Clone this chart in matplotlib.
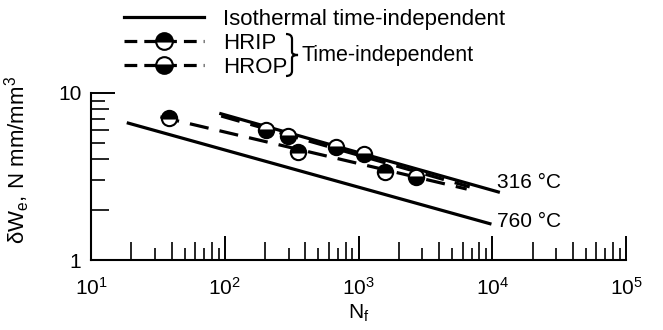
import matplotlib
matplotlib.use('Agg')
import matplotlib.pyplot as plt
import matplotlib.ticker as ticker
from matplotlib.lines import Line2D
from matplotlib.path import Path
from matplotlib.patches import PathPatch

plt.rcParams['font.family'] = ['Liberation Sans', 'DejaVu Sans']
plt.rcParams['mathtext.fontset'] = 'custom'
plt.rcParams['mathtext.rm'] = 'Liberation Sans'
plt.rcParams['mathtext.it'] = 'Liberation Sans'
plt.rcParams['mathtext.bf'] = 'Liberation Sans:bold'

# isothermal time-independent lines
iso316_n = [91, 11400]
iso316_w = [7.56, 2.54]
iso760_n = [18.5, 9860]
iso760_w = [6.64, 1.64]

# fitted dashed lines
hrip_fit_n = [33, 6440]
hrip_fit_w = [7.2, 2.66]
hrop_fit_n = [94, 6780]
hrop_fit_w = [7.28, 2.74]

# test points
hrip_n = [38, 351, 1567]
hrip_w = [7.05, 4.45, 3.38]
hrop_n = [204, 295, 681, 1096, 2704]
hrop_w = [6.0, 5.55, 4.77, 4.29, 3.15]

W, H = 663, 330
fig = plt.figure(figsize=(W / 100, H / 100), dpi=100)
ax = fig.add_axes([0.1373, 0.2121, 0.8069, 0.5061])

lw = 2.3
ax.plot(iso316_n, iso316_w, color='black', lw=lw, solid_capstyle='butt')
ax.plot(iso760_n, iso760_w, color='black', lw=lw, solid_capstyle='butt')
ax.plot(hrip_fit_n, hrip_fit_w, color='black', lw=lw, dashes=(6, 3.5))
ax.plot(hrop_fit_n, hrop_fit_w, color='black', lw=lw, dashes=(6, 3.5))

mk = dict(marker='o', ms=11, mec='black', mew=1.5, mfc='black',
          mfcalt='white', ls='none', zorder=5)
ax.plot(hrip_n, hrip_w, fillstyle='top', **mk)
ax.plot(hrop_n, hrop_w, fillstyle='bottom', **mk)

ax.text(10800, 2.93, '316 °C', fontsize=15, va='center', ha='left')
ax.text(10800, 1.71, '760 °C', fontsize=15, va='center', ha='left')

ax.set_xscale('log')
ax.set_yscale('log')
ax.set_xlim(10, 1e5)
ax.set_ylim(1, 10)

ax.spines['top'].set_visible(False)
ax.spines['right'].set_visible(False)
ax.spines['left'].set_linewidth(1.5)
ax.spines['bottom'].set_linewidth(1.5)

ax.xaxis.set_major_locator(ticker.LogLocator(base=10, numticks=10))
ax.xaxis.set_minor_locator(ticker.LogLocator(base=10, subs=(2, 4, 6, 8), numticks=10))
ax.xaxis.set_minor_formatter(ticker.NullFormatter())
ax.yaxis.set_major_locator(ticker.FixedLocator([1, 10]))
ax.yaxis.set_major_formatter(ticker.FixedFormatter(['1', '10']))
ax.yaxis.set_minor_locator(ticker.LogLocator(base=10, subs=(2, 4, 6, 8), numticks=10))
ax.yaxis.set_minor_formatter(ticker.NullFormatter())

ax.tick_params(axis='both', which='major', direction='in', length=17, width=1.4,
               labelsize=15, pad=12)
ax.tick_params(axis='both', which='minor', direction='in', length=13, width=1.2)
ax.tick_params(axis='y', which='major', pad=7)

# the shorter odd ticks (3,5,7,9)
secx = ax.secondary_xaxis('bottom')
secx.xaxis.set_major_locator(ticker.LogLocator(base=10, subs=(3, 5, 7, 9), numticks=10))
secx.xaxis.set_major_formatter(ticker.NullFormatter())
secx.xaxis.set_minor_locator(ticker.NullLocator())
secx.tick_params(direction='in', length=9, width=1.2)
secx.spines['bottom'].set_visible(False)

secy = ax.secondary_yaxis('left')
secy.yaxis.set_major_locator(ticker.LogLocator(base=10, subs=(3, 5, 7, 9), numticks=10))
secy.yaxis.set_major_formatter(ticker.NullFormatter())
secy.yaxis.set_minor_locator(ticker.NullLocator())
secy.tick_params(direction='in', length=10, width=1.2)
secy.spines['left'].set_visible(False)

ax.set_xlabel('N$_\\mathrm{f}$', fontsize=15, labelpad=3)
ax.set_ylabel('δW$_\\mathrm{e}$, N mm/mm$^3$', fontsize=16, labelpad=16)
ax.yaxis.set_label_coords(-0.11, 0.6)

handles = [
    Line2D([], [], color='black', lw=lw),
    Line2D([], [], color='black', lw=lw, dashes=(4, 2.2), marker='o', ms=12,
           mec='black', mew=1.5, mfc='black', mfcalt='white', fillstyle='top'),
    Line2D([], [], color='black', lw=lw, dashes=(4, 2.2), marker='o', ms=12,
           mec='black', mew=1.5, mfc='black', mfcalt='white', fillstyle='bottom'),
]
labels = ['Isothermal time-independent', 'HRIP', 'HROP']
fig.legend(handles, labels, loc='upper left', bbox_to_anchor=(124 / W, 1 - 9 / H),
           frameon=False, fontsize=16, handlelength=3.6, handletextpad=0.85,
           labelspacing=0.13, borderpad=0, borderaxespad=0, numpoints=1)

# curly brace joining HRIP and HROP
bx0, bx1, bx2 = 286, 292, 298
top, mid, bot = 34, 55, 76
verts = [(bx0, top), (bx1, top), (bx1, top + 5),
         (bx1, mid - 3),
         (bx1, mid), (bx2, mid),
         (bx1, mid), (bx1, mid + 3),
         (bx1, bot - 5),
         (bx1, bot), (bx0, bot)]
verts = [(x / W, 1 - y / H) for x, y in verts]
codes = [Path.MOVETO, Path.CURVE3, Path.CURVE3,
         Path.LINETO,
         Path.CURVE3, Path.CURVE3,
         Path.CURVE3, Path.CURVE3,
         Path.LINETO,
         Path.CURVE3, Path.CURVE3]
fig.add_artist(PathPatch(Path(verts, codes), transform=fig.transFigure,
                         fill=False, lw=1.6, color='black'))
fig.text(301 / W, 1 - 55 / H, 'Time-independent', fontsize=15.5, va='center', ha='left')

fig.savefig('out.png', dpi=100)
